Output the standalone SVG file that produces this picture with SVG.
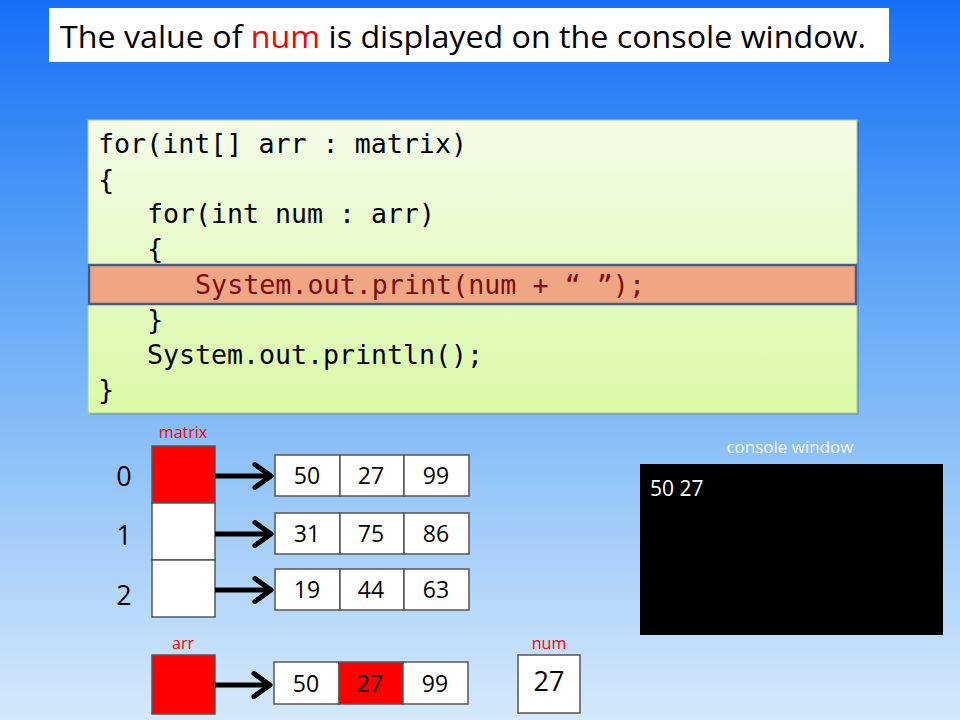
<svg xmlns="http://www.w3.org/2000/svg" width="960" height="720" viewBox="0 0 960 720">
  <defs>
    <linearGradient id="bg" x1="0" y1="0" x2="0" y2="1">
      <stop offset="0" stop-color="#1570f6"/>
      <stop offset="0.45" stop-color="#6aaef6"/>
      <stop offset="1" stop-color="#d6e9fb"/>
    </linearGradient>
    <linearGradient id="codeFill" x1="0" y1="0" x2="0" y2="1">
      <stop offset="0" stop-color="#f3fce8"/>
      <stop offset="1" stop-color="#dafaa6"/>
    </linearGradient>
    <marker id="chev" viewBox="0 0 12 12" refX="10" refY="6" markerWidth="5.5" markerHeight="5.5" orient="auto" markerUnits="strokeWidth">
      <path d="M3,1 L10,6 L3,11" fill="none" stroke="#000" stroke-width="2.2" stroke-linecap="round" stroke-linejoin="round"/>
    </marker>
    <style>
      .ui { font-family: "Open Sans", "Noto Sans", "Liberation Sans", sans-serif; }
      .code { font-family: "DejaVu Sans Mono", "Liberation Mono", monospace; font-size: 27px; fill: #000; }
      .cell { stroke: #555; stroke-width: 1.5; fill: #fff; }
      .hot { fill: #ff0000; }
      .num { font-family: "Open Sans", "Noto Sans", sans-serif; font-size: 23px; fill: #000; text-anchor: middle; }
      .idx { font-family: "Open Sans", "Noto Sans", sans-serif; font-size: 27px; fill: #000; text-anchor: middle; }
      .lbl { font-family: "Open Sans", "Noto Sans", sans-serif; font-size: 16px; fill: #ff0000; text-anchor: middle; }
      .link { stroke: #000; stroke-width: 5; fill: none; marker-end: url(#chev); }
    </style>
  </defs>

  <rect width="960" height="720" fill="url(#bg)"/>

  <!-- heading -->
  <g id="title">
    <rect x="49" y="8" width="840" height="54" fill="#fff"/>
    <text class="ui" x="60" y="48" font-size="31" textLength="806" lengthAdjust="spacingAndGlyphs" fill="#000">The value of <tspan fill="#ff0000">num</tspan> is displayed on the console window.</text>
  </g>

  <!-- code listing -->
  <g id="code">
    <rect x="90" y="122" width="769" height="293" fill="#000" opacity="0.15"/>
    <rect x="88" y="120" width="769" height="293" fill="url(#codeFill)" stroke="#b4cc7a" stroke-width="1"/>
    <rect x="89" y="265" width="767" height="39" fill="#f0a583" stroke="#3e5f86" stroke-width="2.5"/>
    <text class="code" x="98" y="153" textLength="369" lengthAdjust="spacingAndGlyphs">for(int[] arr : matrix)</text>
    <text class="code" x="98" y="189">{</text>
    <text class="code" x="147" y="223" textLength="288" lengthAdjust="spacingAndGlyphs">for(int num : arr)</text>
    <text class="code" x="147" y="258">{</text>
    <text class="code" x="195" y="294" textLength="450" lengthAdjust="spacingAndGlyphs" style="fill:#7a0e0e">System.out.print(num + “ ”);</text>
    <text class="code" x="147" y="329">}</text>
    <text class="code" x="147" y="364" textLength="336" lengthAdjust="spacingAndGlyphs">System.out.println();</text>
    <text class="code" x="98" y="399">}</text>
  </g>

  <!-- matrix reference column -->
  <g id="matrix">
    <text class="lbl" x="183" y="438">matrix</text>
    <rect class="cell hot" x="152" y="446" width="63" height="57"/>
    <rect class="cell" x="152" y="503" width="63" height="57"/>
    <rect class="cell" x="152" y="560" width="63" height="57"/>
    <text class="idx" x="124" y="486">0</text>
    <text class="idx" x="124" y="545">1</text>
    <text class="idx" x="124" y="605">2</text>
  </g>

  <g id="row0">
    <rect class="cell" x="275" y="455" width="65" height="41"/>
    <rect class="cell" x="340" y="455" width="64" height="41"/>
    <rect class="cell" x="404" y="455" width="65" height="41"/>
    <text class="num" x="307" y="484">50</text>
    <text class="num" x="371" y="484">27</text>
    <text class="num" x="436" y="484">99</text>
  </g>
  <g id="row1">
    <rect class="cell" x="275" y="513" width="65" height="41"/>
    <rect class="cell" x="340" y="513" width="64" height="41"/>
    <rect class="cell" x="404" y="513" width="65" height="41"/>
    <text class="num" x="307" y="542">31</text>
    <text class="num" x="371" y="542">75</text>
    <text class="num" x="436" y="542">86</text>
  </g>
  <g id="row2">
    <rect class="cell" x="275" y="569" width="65" height="41"/>
    <rect class="cell" x="340" y="569" width="64" height="41"/>
    <rect class="cell" x="404" y="569" width="65" height="41"/>
    <text class="num" x="307" y="598">19</text>
    <text class="num" x="371" y="598">44</text>
    <text class="num" x="436" y="598">63</text>
  </g>

  <!-- arr variable and the row it refers to -->
  <g id="arr">
    <text class="lbl" x="183" y="649">arr</text>
    <rect class="cell hot" x="152" y="655" width="63" height="59"/>
  </g>
  <g id="arrRow">
    <rect class="cell" x="274" y="662" width="65" height="42"/>
    <rect class="cell hot" x="339" y="662" width="64" height="42"/>
    <rect class="cell" x="403" y="662" width="65" height="42"/>
    <text class="num" x="306" y="692">50</text>
    <text class="num" x="370" y="692">27</text>
    <text class="num" x="435" y="692">99</text>
  </g>

  <!-- num variable -->
  <g id="num">
    <text class="lbl" x="549" y="649">num</text>
    <rect class="cell" x="518" y="655" width="62" height="58"/>
    <text class="num" x="549" y="691" style="font-size:27px">27</text>
  </g>

  <!-- console output -->
  <g id="console">
    <text class="ui" x="790" y="453" font-size="17" fill="#f4f8ff" text-anchor="middle">console window</text>
    <rect x="640" y="464" width="303" height="171" fill="#000"/>
    <text class="ui" x="650" y="496" font-size="21" fill="#fff">50 27</text>
  </g>

  <!-- references -->
  <g id="connectors">
    <line class="link" x1="215" y1="476" x2="271" y2="476"/>
    <line class="link" x1="215" y1="534" x2="271" y2="534"/>
    <line class="link" x1="215" y1="590" x2="271" y2="590"/>
    <line class="link" x1="215" y1="685" x2="270" y2="685"/>
  </g>
</svg>
